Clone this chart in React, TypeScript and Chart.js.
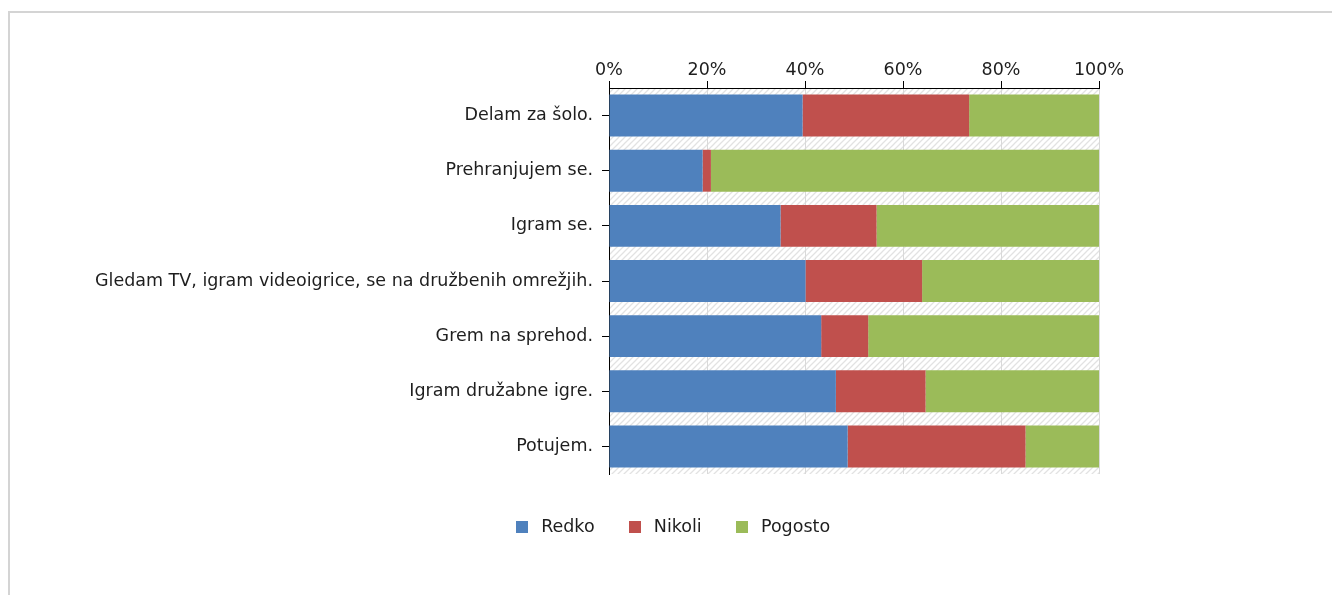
import React, { useEffect, useRef } from "react";
import { Chart, registerables } from "chart.js";

Chart.register(...registerables);

const categories = [
  "Delam za šolo.",
  "Prehranjujem se.",
  "Igram se.",
  "Gledam TV, igram videoigrice, se na družbenih omrežjih.",
  "Grem na sprehod.",
  "Igram družabne igre.",
  "Potujem.",
];
const seriesNames = ["Redko", "Nikoli", "Pogosto"];
const redko = [39.5, 19.1, 35.0, 40.1, 43.3, 46.3, 48.7];
const nikoli = [34.0, 1.7, 19.6, 23.8, 9.6, 18.3, 36.3];
const pogosto = [26.5, 79.2, 45.4, 36.1, 47.1, 35.4, 15.0];
const xTickValues = [0, 20, 40, 60, 80, 100];

const seriesColors = ["#4F81BD", "#C0504D", "#9BBB59"];
const FONT = "'DejaVu Sans', Verdana, sans-serif";
const FSIZE = 17.5;
const TEXT = "#1e1e1e";

function makeSquare(color: string) {
  const c = document.createElement("canvas");
  c.width = 12;
  c.height = 12;
  const g = c.getContext("2d")!;
  g.fillStyle = color;
  g.fillRect(0, 0, 12, 12);
  return c;
}

function makeHatch() {
  const s = 6;
  const c = document.createElement("canvas");
  c.width = s;
  c.height = s;
  const g = c.getContext("2d")!;
  g.fillStyle = "#ffffff";
  g.fillRect(0, 0, s, s);
  g.strokeStyle = "#e2e2e2";
  g.lineWidth = 1.3;
  g.beginPath();
  g.moveTo(-1, s + 1);
  g.lineTo(s + 1, -1);
  g.moveTo(-1, 1);
  g.lineTo(1, -1);
  g.moveTo(s - 1, s + 1);
  g.lineTo(s + 1, s - 1);
  g.stroke();
  return c;
}

const bgPlugin = {
  id: "bgPlugin",
  beforeDraw(chart: any) {
    const { ctx, chartArea, width, height } = chart;
    ctx.save();
    ctx.fillStyle = "#ffffff";
    ctx.fillRect(0, 0, width, height);
    ctx.fillStyle = "#d4d4d4";
    ctx.fillRect(8, 11, 2, height - 11);
    ctx.fillRect(8, 11, width - 8, 2);
    const pat = ctx.createPattern(makeHatch(), "repeat");
    if (pat) {
      ctx.fillStyle = pat;
      ctx.fillRect(
        chartArea.left,
        chartArea.top,
        chartArea.right - chartArea.left,
        chartArea.bottom - chartArea.top
      );
    }
    ctx.restore();
  },
};

export default function App() {
  const ref = useRef<HTMLCanvasElement | null>(null);

  useEffect(() => {
    if (!ref.current) return;
    const squares = seriesColors.map(makeSquare);
    const values = [redko, nikoli, pogosto];
    const chart = new Chart(ref.current, {
      type: "bar",
      data: {
        labels: categories,
        datasets: seriesNames.map((name, i) => ({
          label: name,
          data: values[i],
          backgroundColor: seriesColors[i],
          borderWidth: 0,
          barPercentage: 0.76,
          categoryPercentage: 1,
        })),
      },
      options: {
        indexAxis: "y",
        responsive: false,
        animation: false,
        layout: { padding: { top: 0, left: 70, right: 60, bottom: 49.25 } },
        scales: {
          x: {
            type: "linear",
            position: "top",
            stacked: true,
            min: 0,
            max: 100,
            afterBuildTicks: (s: any) => {
              s.ticks = xTickValues.map((v) => ({ value: v }));
            },
            afterFit: (s: any) => {
              s.height = 88;
            },
            ticks: {
              callback: (v: any) => v + "%",
              font: { family: FONT, size: FSIZE },
              color: TEXT,
              padding: 0,
              maxRotation: 0,
            },
            grid: {
              color: "#d9d9d9",
              tickColor: "#000000",
              tickLength: 7,
              drawTicks: true,
            },
            border: { color: "#000000", width: 1 },
          },
          y: {
            type: "category",
            position: "left",
            stacked: true,
            afterFit: (s: any) => {
              s.width = 539;
            },
            ticks: {
              font: { family: FONT, size: FSIZE },
              color: TEXT,
              padding: 9,
            },
            grid: {
              drawOnChartArea: false,
              offset: false,
              tickColor: "#000000",
              tickLength: 7,
              drawTicks: true,
            },
            border: { color: "#000000", width: 1 },
          },
          spacer: {
            type: "category",
            position: "right",
            display: true,
            afterFit: (s: any) => {
              s.width = 173;
            },
            ticks: { display: false },
            grid: { display: false, drawTicks: false },
            border: { display: false },
          },
        },
        plugins: {
          legend: {
            position: "bottom",
            title: {
              display: true,
              text: "",
              font: { size: 1, lineHeight: 1 },
              padding: { top: 13.25, bottom: 0 },
            },
            labels: {
              usePointStyle: true,
              pointStyleWidth: 20.5,
              padding: 30,
              font: { family: FONT, size: FSIZE },
              color: TEXT,
              generateLabels: (c: any) =>
                (Chart.defaults.plugins.legend.labels as any)
                  .generateLabels(c)
                  .map((it: any, i: number) => ({ ...it, pointStyle: squares[i] })),
            },
          },
          tooltip: { enabled: false },
          title: { display: false },
        },
      } as any,
      plugins: [bgPlugin],
    });
    return () => chart.destroy();
  }, []);

  return (
    <div style={{ position: "fixed", left: 0, top: 0, width: 1332, height: 595 }}>
      <canvas ref={ref} width={1332} height={595} style={{ display: "block" }} />
    </div>
  );
}
